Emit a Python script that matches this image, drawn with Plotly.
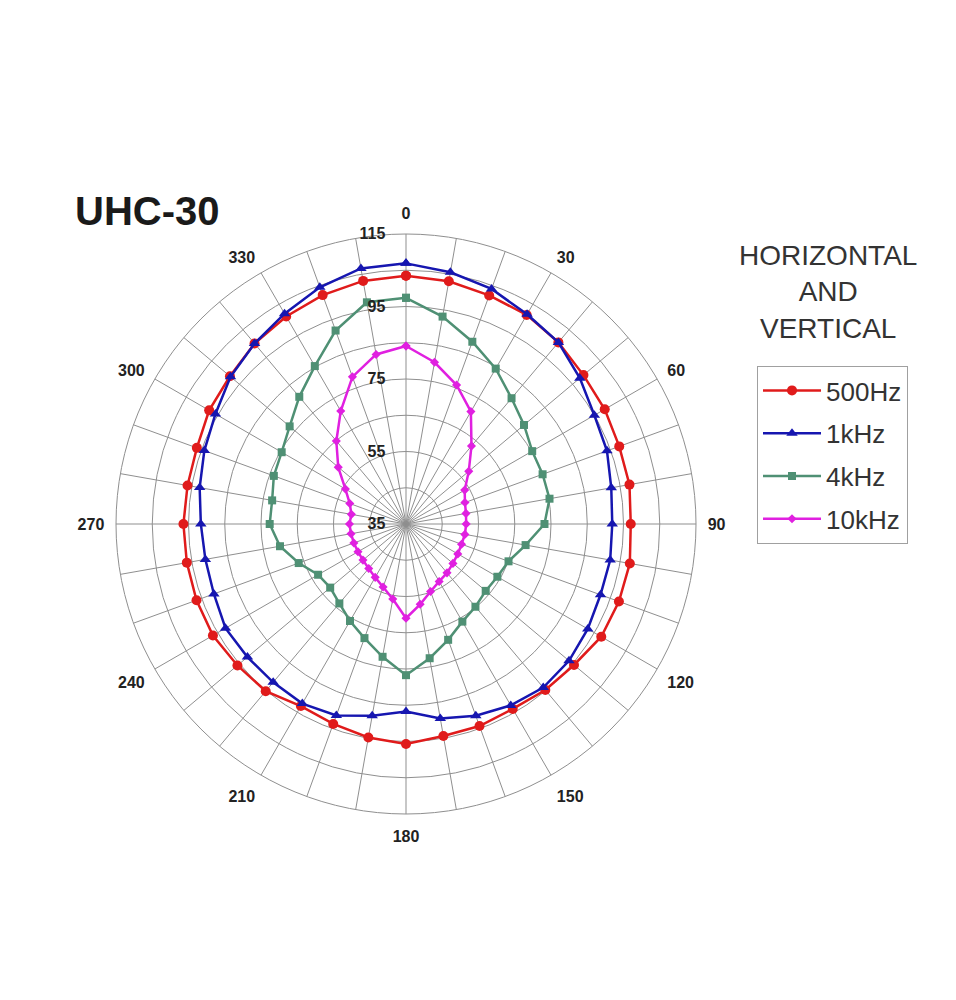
import plotly.graph_objects as go

angles = list(range(0, 360, 10))

r_500 = [103.5, 103.0, 102.1, 101.6, 100.4, 98.9, 98.3, 97.6, 97.6, 97.0,
         97.7, 97.5, 97.2, 95.5, 94.8, 93.9, 94.3, 94.4, 95.7, 94.8,
         93.7, 93.0, 95.2, 95.7, 96.5, 96.5, 96.4, 96.4, 96.2, 96.4,
         97.7, 98.4, 100.0, 101.1, 102.2, 103.1]
r_1k = [106.9, 105.5, 104.0, 101.8, 100.4, 97.6, 95.0, 94.0, 92.5, 91.9,
        92.2, 92.1, 92.9, 93.7, 93.9, 92.8, 91.3, 89.5, 86.7, 88.7,
        91.2, 92.2, 92.0, 92.1, 92.5, 91.4, 91.2, 91.6, 92.8, 94.2,
        95.7, 98.2, 100.0, 102.0, 104.5, 106.6]
r_4k = [97.4, 93.1, 88.5, 84.5, 80.3, 77.5, 75.2, 75.1, 75.2, 73.2,
        68.5, 65.1, 64.1, 63.7, 64.8, 66.1, 69.0, 72.6, 76.7, 72.2,
        68.5, 65.9, 63.6, 62.3, 63.0, 66.5, 70.3, 72.6, 72.5, 73.8,
        74.6, 76.9, 80.8, 85.3, 91.8, 97.1]
r_10k = [84.1, 80.3, 75.8, 70.8, 63.1, 57.6, 53.7, 52.3, 51.8, 51.6,
         51.5, 51.3, 51.5, 51.9, 52.6, 53.3, 54.8, 57.5, 61.0, 56.0,
         53.5, 52.0, 51.0, 50.5, 50.3, 50.3, 50.4, 50.6, 50.3, 51.5,
         54.3, 59.4, 64.9, 71.0, 78.2, 82.5]

series_names = ["500Hz", "1kHz", "4kHz", "10kHz"]
series_values = [r_500, r_1k, r_4k, r_10k]
colors = ["#e01b1b", "#1616b0", "#4f9074", "#e020e0"]
symbols = ["circle", "triangle-up", "square", "diamond"]
msizes = [10, 10, 8, 7]

radial_ticks = list(range(35, 116, 10))
radial_labels = [str(v) if (v - 35) % 20 == 0 else "" for v in radial_ticks]
angular_ticks = list(range(0, 360, 10))
angular_labels = [str(a) if a % 30 == 0 else "" for a in angular_ticks]

W, H, OFF = 956, 1000, 8


def px(x):
    return (x - OFF) / W


def py(y):
    return 1 - (y - OFF) / H


fig = go.Figure()
for name, vals, col, sym, ms in zip(series_names, series_values, colors, symbols, msizes):
    fig.add_trace(go.Scatterpolar(
        r=vals + vals[:1],
        theta=angles + angles[:1],
        mode="lines+markers",
        name=name,
        legendgroup=name,
        line=dict(color=col, width=2.5),
        marker=dict(color=col, symbol=sym, size=ms),
    ))

font_family = "Arial, Liberation Sans, sans-serif"
cx, cy, half = 406, 524, 290
pad = "\u00a0" * 4

fig.update_layout(
    width=W, height=H,
    margin=dict(l=0, r=0, t=0, b=0),
    paper_bgcolor="white",
    plot_bgcolor="white",
    font=dict(family=font_family, color="#222"),
    polar=dict(
        domain=dict(x=[px(cx - half), px(cx + half)], y=[py(cy + half), py(cy - half)]),
        bgcolor="white",
        radialaxis=dict(
            range=[35, 115],
            tickvals=radial_ticks,
            ticktext=[t + pad if t else t for t in radial_labels],
            angle=90,
            tickangle=90,
            side="counterclockwise",
            showline=False,
            ticks="",
            gridcolor="#8f8f8f",
            gridwidth=1,
            tickfont=dict(size=16, color="#222", family=font_family, weight="bold"),
        ),
        angularaxis=dict(
            rotation=90,
            direction="clockwise",
            tickvals=angular_ticks,
            ticktext=angular_labels,
            ticks="outside",
            ticklen=8,
            tickcolor="rgba(0,0,0,0)",
            showline=True,
            linecolor="#8f8f8f",
            linewidth=1,
            gridcolor="#8f8f8f",
            gridwidth=1,
            tickfont=dict(size=16, color="#222", family=font_family, weight="bold"),
        ),
    ),
    legend=dict(
        x=px(757), y=py(366),
        xanchor="left", yanchor="top",
        bordercolor="#a0a0a0", borderwidth=1,
        bgcolor="white",
        font=dict(size=26, color="#333", family=font_family),
        tracegroupgap=6,
        traceorder="grouped",
        itemwidth=58,
    ),
    annotations=[
        dict(text="<b>UHC-30</b>", x=px(73), y=py(211), xref="paper", yref="paper",
             xanchor="left", yanchor="middle", showarrow=False,
             font=dict(size=40, color="#1a1a1a", family=font_family)),
        dict(text="HORIZONTAL<br>AND<br>VERTICAL", x=px(828), y=py(292),
             xref="paper", yref="paper", xanchor="center", yanchor="middle",
             showarrow=False, align="center",
             font=dict(size=28, color="#333", family=font_family)),
    ],
)

fig.write_html("out.html")
